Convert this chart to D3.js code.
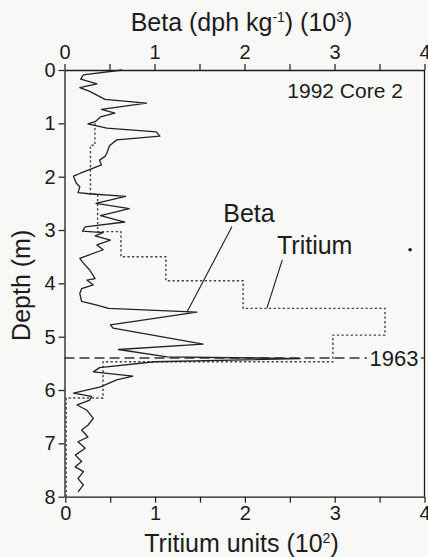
<!DOCTYPE html>
<html><head><meta charset="utf-8">
<script src="https://cdn.jsdelivr.net/npm/d3@7"></script>
<style>
html,body{margin:0;padding:0;background:#f8f8f6;}
svg{display:block;font-family:"Liberation Sans",Arial,sans-serif;}
</style></head>
<body><svg id="c" width="428" height="557"></svg>
<script>
// ---- data ----
const betaDepth = [0.00,0.09,0.17,0.26,0.33,0.40,0.55,0.62,0.74,0.81,0.88,0.97,1.01,1.09,1.16,1.24,1.31,1.42,1.56,1.62,1.69,1.78,1.84,1.94,1.99,2.12,2.19,2.30,2.32,2.37,2.50,2.60,2.73,2.85,2.94,3.02,3.05,3.11,3.19,3.28,3.37,3.53,3.62,3.75,3.91,3.94,4.03,4.10,4.19,4.34,4.41,4.47,4.54,4.78,4.84,5.14,5.24,5.38,5.41,5.47,5.58,5.66,5.74,5.81,5.94,6.06,6.12,6.19,6.28,6.38,6.53,6.66,6.75,6.88,6.97,7.09,7.22,7.34,7.44,7.53,7.66,7.78,7.91];
const betaValue = [0.64,0.21,0.18,0.36,0.17,0.28,0.45,0.91,0.41,0.56,0.40,0.34,0.26,0.47,1.02,1.06,0.58,0.50,0.47,0.45,0.39,0.41,0.32,0.17,0.10,0.13,0.17,0.15,0.27,0.68,0.35,0.72,0.40,0.67,0.23,0.20,0.43,0.34,0.51,0.36,0.43,0.17,0.21,0.28,0.34,0.25,0.32,0.19,0.17,0.19,0.36,0.49,1.47,0.51,0.54,1.54,0.60,1.14,2.62,1.00,0.39,0.32,0.76,0.58,0.40,0.10,0.30,0.28,0.14,0.25,0.32,0.26,0.19,0.26,0.15,0.23,0.12,0.19,0.12,0.21,0.15,0.21,0.15];
// tritium step function: layer boundaries (m) and value in each layer (10^2 TU)
const tritiumBounds = [1.00,1.41,2.33,3.03,3.50,3.95,4.47,4.97,5.47,6.15,8.00];
const tritiumValue  = [0.33,0.28,0.36,0.62,1.12,1.98,3.56,2.98,0.42,0.01];
const depthTicks = [0,1,2,3,4,5,6,7,8];
const xTicks = [0,0.5,1,1.5,2,2.5,3,3.5,4];
const markerDepth = 5.4, markerLabel = "1963";

// ---- layout ----
const L = 64.5, R = 424.5, T = 70, B = 496.7;
const svg = d3.select("#c");
const y = d3.scaleLinear().domain([0,8]).range([T,B]);
const xb = d3.scaleLinear().domain([0,4]).range([L,R]);
const xt = d3.scaleLinear().domain([0,4]).range([L+0.8,R]);
const ink = "#1c1c1c";

function styleAxis(g, fs){
  g.selectAll("path.domain").attr("stroke",ink).attr("stroke-width",1.3);
  g.selectAll(".tick line").attr("stroke",ink).attr("stroke-width",1.2);
  g.selectAll(".tick text").attr("fill",ink).attr("font-size",fs).attr("font-family","Liberation Sans, Arial, sans-serif");
}
const fmt = d => Number.isInteger(d) ? d : "";
svg.append("g").attr("transform",`translate(0,${T})`)
  .call(d3.axisTop(xb).tickValues(xTicks).tickFormat(fmt).tickSize(6).tickSizeOuter(0).tickPadding(5))
  .call(g=>styleAxis(g,20));
svg.append("g").attr("transform",`translate(0,${B})`)
  .call(d3.axisBottom(xt).tickValues(xTicks).tickFormat(fmt).tickSize(6).tickSizeOuter(0).tickPadding(3))
  .call(g=>styleAxis(g,20));
svg.append("g").attr("transform",`translate(${L},0)`)
  .call(d3.axisLeft(y).tickValues(depthTicks).tickSize(6).tickSizeOuter(0).tickPadding(3))
  .call(g=>styleAxis(g,20));
// right frame
svg.append("line").attr("x1",R).attr("x2",R).attr("y1",T).attr("y2",B).attr("stroke",ink).attr("stroke-width",1.3);

// 1963 marker line
const my = y(markerDepth);
svg.append("line").attr("x1",L).attr("x2",xb(3.36)).attr("y1",my).attr("y2",my)
  .attr("stroke","#333").attr("stroke-width",1.4).attr("stroke-dasharray","10,5");
svg.append("line").attr("x1",xb(3.96)).attr("x2",R).attr("y1",my).attr("y2",my)
  .attr("stroke","#333").attr("stroke-width",1.4).attr("stroke-dasharray","10,5");
svg.append("text").attr("x",xb(3.66)).attr("y",my).attr("dy","0.36em").attr("text-anchor","middle")
  .attr("font-size",22).attr("fill",ink).text(markerLabel);

// tritium dotted step line
const tPts = [];
tritiumValue.forEach((v,i)=>{ tPts.push([v,tritiumBounds[i]]); tPts.push([v,tritiumBounds[i+1]]); });
svg.append("path").datum(tPts)
  .attr("d", d3.line().x(d=>xt(d[0])).y(d=>y(d[1])))
  .attr("fill","none").attr("stroke","#444").attr("stroke-width",1.4).attr("stroke-dasharray","2.3,2.3");

// beta solid line
svg.append("path").datum(betaDepth.map((d,i)=>[betaValue[i],d]))
  .attr("d", d3.line().x(d=>xb(d[0])).y(d=>y(d[1])))
  .attr("fill","none").attr("stroke","#222").attr("stroke-width",1.3).attr("stroke-linejoin","round");

// labels and leaders
svg.append("text").attr("x",xb(2.05)).attr("y",y(2.68)).attr("dy","0.36em").attr("text-anchor","middle")
  .attr("font-size",25).attr("fill",ink).text("Beta");
svg.append("line").attr("x1",xb(1.86)).attr("y1",y(2.94)).attr("x2",xb(1.36)).attr("y2",y(4.54))
  .attr("stroke",ink).attr("stroke-width",1.1);
svg.append("text").attr("x",xb(2.78)).attr("y",y(3.28)).attr("dy","0.36em").attr("text-anchor","middle")
  .attr("font-size",25).attr("fill",ink).text("Tritium");
svg.append("line").attr("x1",xb(2.42)).attr("y1",y(3.56)).attr("x2",xb(2.25)).attr("y2",y(4.46))
  .attr("stroke",ink).attr("stroke-width",1.1);
svg.append("circle").attr("cx",xb(3.84)).attr("cy",y(3.37)).attr("r",1.8).attr("fill",ink);
svg.append("text").attr("x",xb(3.76)).attr("y",y(0.38)).attr("dy","0.36em").attr("text-anchor","end")
  .attr("font-size",21).attr("fill",ink).text("1992 Core 2");

// axis titles
const tt = svg.append("text").attr("x",(L+R)/2 - 3).attr("y",31).attr("text-anchor","middle")
  .attr("font-size",25).attr("fill",ink);
tt.append("tspan").text("Beta (dph kg");
tt.append("tspan").attr("font-size",14).attr("dy",-9).text("-1");
tt.append("tspan").attr("dy",9).text(") (10");
tt.append("tspan").attr("font-size",14).attr("dy",-9).text("3");
tt.append("tspan").attr("dy",9).text(")");

const bt = svg.append("text").attr("x",(L+R)/2 - 3).attr("y",552).attr("text-anchor","middle")
  .attr("font-size",25).attr("fill",ink);
bt.append("tspan").text("Tritium units (10");
bt.append("tspan").attr("font-size",14).attr("dy",-9).text("2");
bt.append("tspan").attr("dy",9).text(")");

svg.append("text").attr("transform",`translate(30,${(T+B)/2+2}) rotate(-90)`).attr("text-anchor","middle")
  .attr("font-size",25).attr("fill",ink).text("Depth (m)");
</script></body></html>
